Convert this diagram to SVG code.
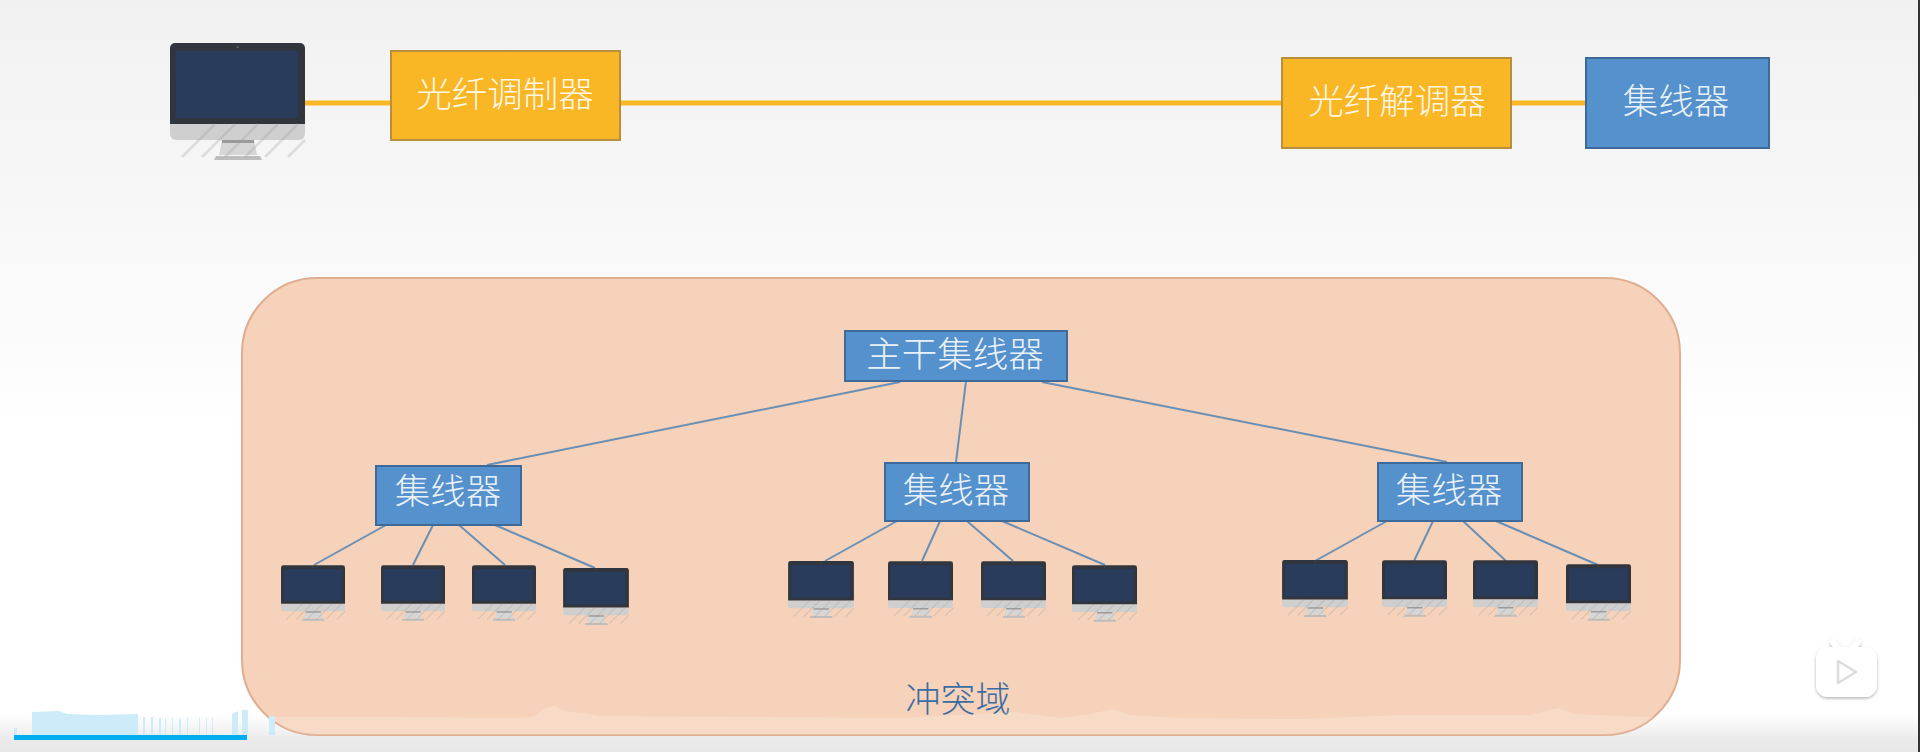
<svg xmlns="http://www.w3.org/2000/svg" width="1920" height="752" viewBox="0 0 1920 752">
<style>
.t{font-family:"Noto Sans CJK SC","Noto Sans",sans-serif;font-weight:300;fill:#fff;fill-opacity:.9;text-anchor:middle}
.y{fill:#f9b625;stroke:#b98f3e;stroke-width:2}
.b{fill:#5591cd;stroke:#3d6a98;stroke-width:2}
.fib{stroke:#f9b625;stroke-width:5;fill:none}
.net{stroke:#6a8fb5;stroke-width:2;fill:none}
</style>
<defs>
<linearGradient id="bg" x1="0" y1="0" x2="0" y2="1">
<stop offset="0" stop-color="#f1f1f1"/><stop offset=".3" stop-color="#f8f8f8"/><stop offset=".58" stop-color="#fff"/><stop offset=".95" stop-color="#fff"/><stop offset=".985" stop-color="#eaeaea"/><stop offset="1" stop-color="#e8e8e8"/>
</linearGradient>
<clipPath id="dom"><rect x="242" y="278" width="1438" height="457" rx="75"/></clipPath>
<filter id="soft" x="-20%" y="-20%" width="140%" height="140%"><feDropShadow dx="0" dy="1.500" stdDeviation="1.500" flood-color="#000" flood-opacity=".3"/></filter>
<symbol id="pc" viewBox="0 0 135 117" overflow="visible">
<path d="M0 81H135V91a6 6 0 0 1-6 6H6a6 6 0 0 1-6-6Z" fill="#cfcfcf"/>
<path d="M52 97H84L87 112H49Z" fill="#d6d6d6"/>
<path d="M46 113H90L92 117H44Z" fill="#bdbdbd"/>
<rect x="52" y="97" width="32" height="3" fill="#9a9a9a"/>
<path d="M0 81V5a5 5 0 0 1 5-5H130a5 5 0 0 1 5 5V81Z" fill="#31363e"/>
<rect x="6" y="8" width="122" height="67" fill="#293c5c"/>
<circle cx="67.500" cy="4" r="1" fill="#666"/>
<path d="M12 114 45 81M32 114 65 81M55 114 88 81M75 114 108 81M95 114 128 81M118 114 135 97" stroke="#999" stroke-opacity=".28" stroke-width="2.500"/>
</symbol>
</defs>
<rect id="background" width="1920" height="752" fill="url(#bg)"/>
<rect x="1918" width="2" height="752" fill="#333"/>
<g id="connectors-top">
<path class="fib" d="M305 103H391M621 103H1282M1511 103H1586"/>
</g>
<g id="pc-top"><use href="#pc" x="170" y="43" width="135" height="117"/></g>
<g id="modulator"><rect class="y" x="391" y="51" width="229" height="89"/><text class="t" x="505" y="107" font-size="35.500">光纤调制器</text></g>
<g id="demodulator"><rect class="y" x="1282" y="58" width="229" height="90"/><text class="t" x="1397" y="114" font-size="35.500">光纤解调器</text></g>
<g id="hub-top"><rect class="b" x="1586" y="58" width="183" height="90"/><text class="t" x="1676" y="114" font-size="35.500">集线器</text></g>
<g id="collision-domain"><rect x="242" y="278" width="1438" height="457" rx="75" fill="#f5d2b9" stroke="#e0ad90" stroke-width="2"/></g>
<g id="connectors">
<path class="net" d="M900 382 487 465M966 381 956 462M1042 382 1447 462"/>
<path class="net" d="M386 525 314 565M433 525 413 565M459 525 505 565M495 525 595 568"/>
<path class="net" d="M897 521 825 561M940 521 922 561M967 521 1013 561M1002 521 1105 565"/>
<path class="net" d="M1387 521 1315 561M1433 521 1414 561M1463 521 1506 561M1496 521 1598 565"/>
</g>
<g id="hub-trunk"><rect class="b" x="845" y="331" width="222" height="50"/><text class="t" x="955" y="367" font-size="35.500">主干集线器</text></g>
<g id="hub-1"><rect class="b" x="376" y="466" width="145" height="59"/><text class="t" x="448" y="504" font-size="35.500">集线器</text></g>
<g id="hub-2"><rect class="b" x="885" y="463" width="144" height="58"/><text class="t" x="956" y="503" font-size="35.500">集线器</text></g>
<g id="hub-3"><rect class="b" x="1378" y="463" width="144" height="58"/><text class="t" x="1449" y="503" font-size="35.500">集线器</text></g>
<g id="pc-1-1"><use href="#pc" x="281" y="565" width="64" height="56"/></g>
<g id="pc-1-2"><use href="#pc" x="381" y="565" width="64" height="56"/></g>
<g id="pc-1-3"><use href="#pc" x="472" y="565" width="64" height="56"/></g>
<g id="pc-1-4"><use href="#pc" x="563" y="568" width="66" height="57"/></g>
<g id="pc-2-1"><use href="#pc" x="788" y="561" width="66" height="57"/></g>
<g id="pc-2-2"><use href="#pc" x="888" y="561" width="65" height="57"/></g>
<g id="pc-2-3"><use href="#pc" x="981" y="561" width="65" height="57"/></g>
<g id="pc-2-4"><use href="#pc" x="1072" y="565" width="65" height="57"/></g>
<g id="pc-3-1"><use href="#pc" x="1282" y="560" width="66" height="57"/></g>
<g id="pc-3-2"><use href="#pc" x="1382" y="560" width="65" height="57"/></g>
<g id="pc-3-3"><use href="#pc" x="1473" y="560" width="65" height="57"/></g>
<g id="pc-3-4"><use href="#pc" x="1566" y="564" width="65" height="57"/></g>
<g id="collision-label"><text x="958" y="712" font-size="35" font-family="'Noto Sans CJK SC','Noto Sans',sans-serif" font-weight="300" text-anchor="middle" fill="#3a6ca3">冲突域</text></g>
<g id="player-overlay">
<path clip-path="url(#dom)" d="M240 717H400L520 718 535 716 545 708 555 706 565 711 585 713 600 716 900 718 1017 712 1060 718 1090 714 1113 709 1130 715 1180 718 1300 719 1400 715 1530 715 1558 708 1575 714 1640 717 1690 717V737H240Z" fill="#fff" fill-opacity=".2"/>
<path fill="#ccecfa" d="M14 728H17V735H14ZM32 712 59 711 67 714 100 715 138 714V735H32ZM143 717h2v18h-2ZM151 717h2v18h-2ZM159 718h2v17h-2ZM165 718h1v17h-1ZM172 718h1v17h-1ZM179 719h2v16h-2ZM187 718h1v17h-1ZM199 718h1v17h-1ZM206 718h1v17h-1ZM212 718h1v17h-1ZM232 714 238 711V735H232ZM242 710H248V735H242ZM269 716H275V735H269Z"/>
<rect x="14" y="735" width="233" height="5" fill="#00aeef"/>
<g id="tv-icon" filter="url(#soft)">
<path d="M1833 642 1838 648M1858 642 1853 648" stroke="#fff" stroke-width="6" stroke-linecap="round"/>
<rect x="1816" y="647" width="61" height="50" rx="12" fill="#fff"/>
<path d="M1838 661 1856 672 1838 683Z" fill="#fff" stroke="#dcdcdc" stroke-width="2.500" stroke-linejoin="round"/>
</g>
</g>
</svg>
